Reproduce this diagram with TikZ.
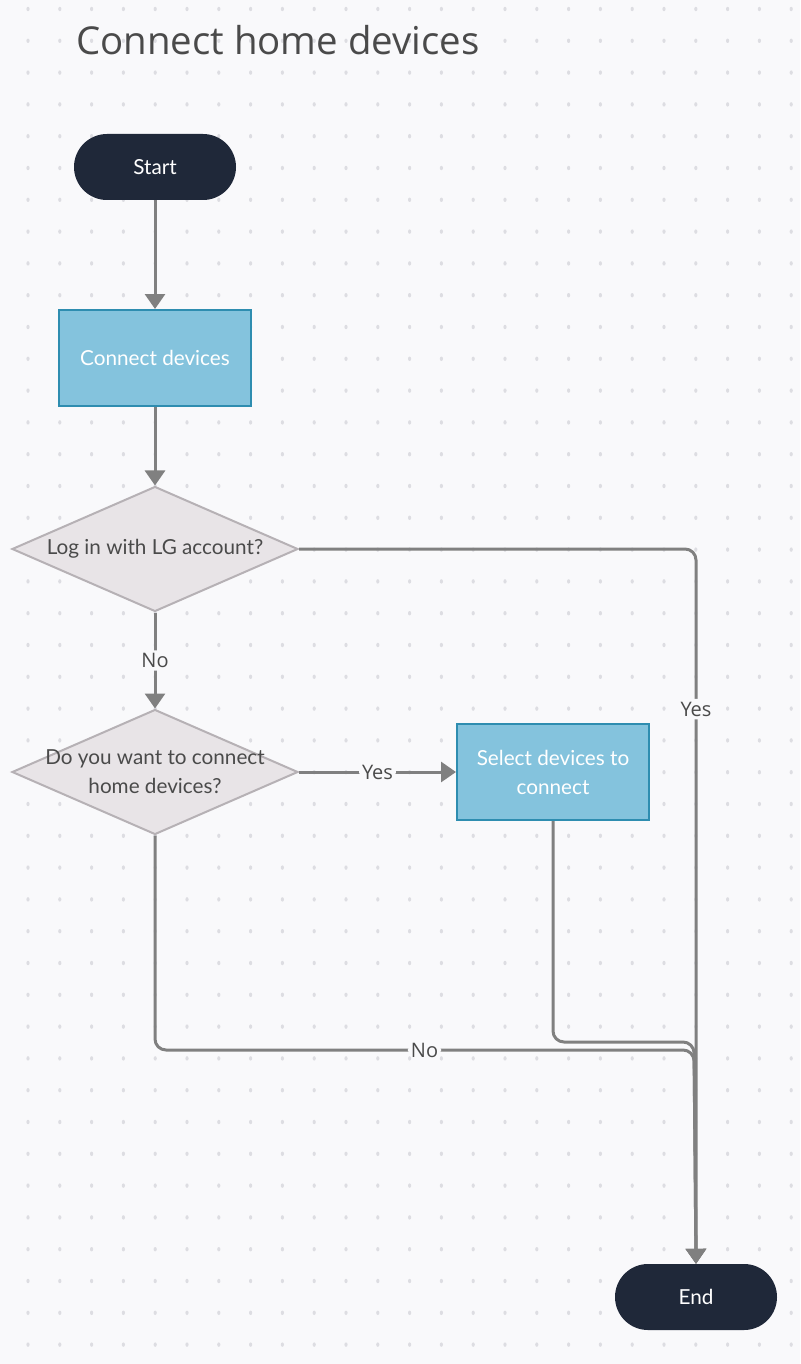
\documentclass[tikz,border=0pt]{standalone}
\usepackage{fontspec}
\setmainfont{Lato}
\newfontfamily\titlefont{Open Sans}
\usetikzlibrary{shapes.geometric,arrows.meta}
\definecolor{bg}{HTML}{F9F9FB}
\definecolor{dotc}{HTML}{DDDDE2}
\definecolor{navy}{HTML}{1F2839}
\definecolor{bluefill}{HTML}{84C3DD}
\definecolor{blueline}{HTML}{2E8DB0}
\definecolor{diafill}{HTML}{E8E4E7}
\definecolor{dialine}{HTML}{B6B1B5}
\definecolor{conn}{HTML}{808080}
\definecolor{txt}{HTML}{4A4A4A}
\tikzset{
  term/.style={fill=navy, draw=none, rounded corners=33pt, minimum width=162pt, minimum height=66pt, inner sep=0pt,
    text=white, font=\fontsize{20.7}{25}\selectfont},
  procbox/.style={fill=bluefill, draw=blueline, line width=2pt, minimum width=192pt, minimum height=96pt, inner sep=0pt,
    text=white, align=center, font=\fontsize{20.7}{29}\selectfont},
  dia/.style={diamond, fill=diafill, draw=dialine, line width=2pt, minimum width=286pt, minimum height=125pt, inner sep=0pt},
  diatext/.style={text=txt, align=center, font=\fontsize{20.7}{29}\selectfont, inner sep=0pt},
  conn/.style={draw=conn, line width=3pt, rounded corners=11pt, -{Triangle[width=20pt,length=15pt]}},
  lab/.style={fill=bg, text=txt, inner sep=3pt, font=\titlefont\fontsize{20}{24}\selectfont},
}
\begin{document}
\begin{tikzpicture}[x=1pt,y=-1pt]
\fill[bg] (0,0) rectangle (800,1364);
\useasboundingbox (0,0) rectangle (800,1364);
\foreach \i in {0,...,24}{
  \foreach \j in {0,...,42}{
    \fill[dotc] ({28+31.8*\i},{9+31.8*\j}) ellipse (1.6pt and 2.2pt);
  }
}
\node[anchor=base west, inner sep=0pt, text=txt, font=\titlefont\fontsize{38.4}{46}\selectfont] (title) at (76,55) {Connect home devices};

\node[term] (start) at (155,167) {Start};
\node[procbox] (conn1) at (155,358) {Connect devices};
\node[dia, label={[diatext]center:Log in with LG account?}] (d1) at (155,549) {};
\node[dia, label={[diatext]center:Do you want to connect\\home devices?}] (d2) at (155,772) {};
\node[procbox] (sel) at (553,772) {Select devices to\\connect};
\node[term] (end) at (696,1297) {End};

\draw[conn] (start) -- (conn1);
\draw[conn] (conn1) -- (d1);
\draw[conn] (d1) -- node[lab]{No} (d2);
\draw[conn] (d2) -- node[lab]{Yes} (sel);
\draw[conn] (d1.east) -- (d1.east -| end.north) -- node[lab, pos=0.224]{Yes} (end.north);
\draw[conn] (sel.south) -- (553,1042) -- (694,1042) -- (end.north);
\draw[conn] (d2.south) -- (155,1050) -- node[lab]{No} (694,1050) -- (end.north);
\end{tikzpicture}
\end{document}
